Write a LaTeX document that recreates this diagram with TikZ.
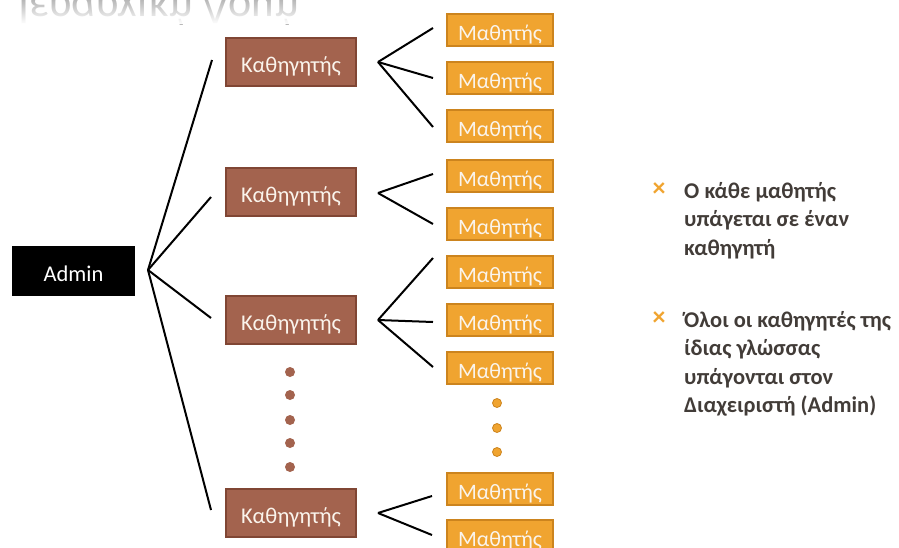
\documentclass[tikz,border=0pt]{standalone}
\usepackage{fontspec}
\setmainfont{Carlito}
\usetikzlibrary{fadings}
\definecolor{kbrown}{RGB}{163,99,78}
\definecolor{kbrownD}{RGB}{128,70,52}
\definecolor{morange}{RGB}{240,164,48}
\definecolor{morangeD}{RGB}{204,132,30}
\definecolor{txtgray}{RGB}{66,60,56}
\definecolor{boxtxt}{RGB}{250,244,236}
\begin{document}
\begin{tikzpicture}[x=1pt,y=-1pt,
  lowtext/.style={text height=21.5pt, text depth=0pt},
  adminbox/.style={lowtext, fill=black, minimum width=123pt, minimum height=50pt, inner sep=0pt, text=white, font=\fontsize{22.5}{22.5}\selectfont},
  kbox/.style={lowtext, fill=kbrown, draw=kbrownD, line width=1.2pt, minimum width=130pt, minimum height=48pt, inner sep=0pt, text=boxtxt, font=\fontsize{22.5}{22.5}\selectfont},
  mbox/.style={lowtext, fill=morange, draw=morangeD, line width=1.2pt, minimum width=106pt, minimum height=32pt, inner sep=0pt, text=boxtxt, font=\fontsize{22}{22}\selectfont},
  conn/.style={line width=2pt, draw=black},
  bdot/.style={circle, fill=kbrown, minimum size=10pt, inner sep=0pt},
  odot/.style={circle, fill=morange, draw=morangeD, line width=0.8pt, minimum size=9pt, inner sep=0pt},
  bullettext/.style={anchor=base west, inner sep=0pt, text=txtgray, font=\fontsize{22.5}{28.5}\selectfont\bfseries},
  xmark/.style={text=morange, font=\fontsize{26}{26}\selectfont\bfseries, inner sep=0pt}
]
\useasboundingbox (0,0) rectangle (899,547);
% reflected title
\begin{scope}
\clip (0,0) rectangle (340,24);
\node[anchor=base west, yscale=-1, text=black!28, font=\fontsize{44}{44}\selectfont, inner sep=0pt] (title) at (18,-5) {Ιεραρχική Δομή};
\fill[white, path fading=north] (0,0) rectangle (340,24);
\end{scope}
% admin
\node[adminbox] (admin) at (73.5,271) {Admin};
\coordinate (aA) at (148,270);
% teachers
\node[kbox] (k1) at (291,62) {Καθηγητής};
\node[kbox] (k2) at (291,192) {Καθηγητής};
\node[kbox] (k3) at (291,320) {Καθηγητής};
\node[kbox] (k4) at (291,513) {Καθηγητής};
\coordinate (ae1) at (212,60);
\coordinate (ae2) at (211,197);
\coordinate (ae3) at (211,318);
\coordinate (ae4) at (211,510);
\foreach \i in {1,2,3,4} \draw[conn] (aA) -- (ae\i);
% fan apexes
\coordinate (f1) at (378,62);
\coordinate (f2) at (378,193);
\coordinate (f3) at (378,320);
\coordinate (f4) at (378,513);
% students
\node[mbox] (m11) at (500,30) {Μαθητής};
\node[mbox] (m12) at (500,78) {Μαθητής};
\node[mbox] (m13) at (500,126) {Μαθητής};
\node[mbox] (m21) at (500,176) {Μαθητής};
\node[mbox] (m22) at (500,224) {Μαθητής};
\node[mbox] (m31) at (500,272) {Μαθητής};
\node[mbox] (m32) at (500,320) {Μαθητής};
\node[mbox] (m33) at (500,368) {Μαθητής};
\node[mbox] (m41) at (500,489) {Μαθητής};
\node[mbox] (m42) at (500,536) {Μαθητής};
\coordinate (e11) at (433,28);
\coordinate (e12) at (433,78);
\coordinate (e13) at (433,127);
\coordinate (e21) at (433,174);
\coordinate (e22) at (433,224);
\coordinate (e31) at (433,258);
\coordinate (e32) at (433,322);
\coordinate (e33) at (433,367);
\coordinate (e41) at (432,496);
\coordinate (e42) at (432,535);
\foreach \e in {11,12,13} \draw[conn] (f1) -- (e\e);
\foreach \e in {21,22} \draw[conn] (f2) -- (e\e);
\foreach \e in {31,32,33} \draw[conn] (f3) -- (e\e);
\foreach \e in {41,42} \draw[conn] (f4) -- (e\e);
% dots
\foreach \y/\n in {372/1,395/2,420/3,443/4,467/5} \node[bdot] (bd\n) at (290,\y) {};
\foreach \y/\n in {403/1,428/2,452/3} \node[odot] (od\n) at (497,\y) {};
% bullets
\node[xmark] (x1) at (659,190) {×};
\node[bullettext] (t1) at (684,198) {\begin{tabular}[t]{@{}l@{}}Ο κάθε μαθητής\\υπάγεται σε έναν\\καθηγητή\end{tabular}};
\node[xmark] (x2) at (659,319) {×};
\node[bullettext] (t2) at (684,327) {\begin{tabular}[t]{@{}l@{}}Όλοι οι καθηγητές της\\ίδιας γλώσσας\\υπάγονται στον\\Διαχειριστή (Admin)\end{tabular}};
\end{tikzpicture}
\end{document}
